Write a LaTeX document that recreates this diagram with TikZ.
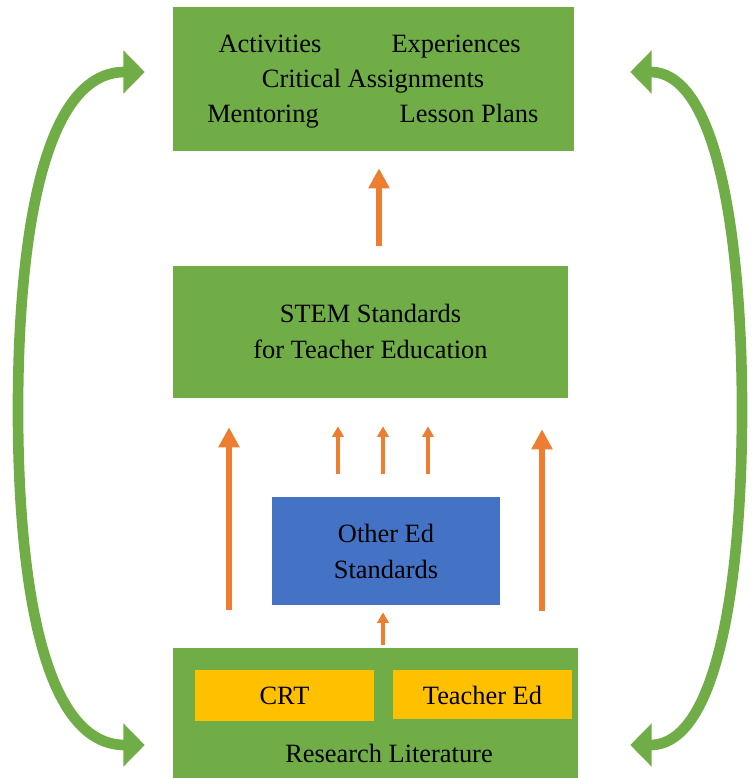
\documentclass[tikz,border=0pt]{standalone}
\usepackage{fontspec}
\setmainfont{Liberation Serif}
\newfontfamily\tnr{Liberation Serif}
\usetikzlibrary{arrows.meta,calc}
\definecolor{grn}{HTML}{70AD47}
\definecolor{blu}{HTML}{4472C4}
\definecolor{org}{HTML}{ED7D31}
\definecolor{yel}{HTML}{FFC000}
\begin{document}
\begin{tikzpicture}[x=0.75pt,y=-0.75pt,
  box/.style={fill=#1,draw=none,inner sep=0pt},
  txt/.style={anchor=base,inner sep=0pt,font=\tnr\fontsize{19.8pt}{27pt}\selectfont},
  bigarrow/.style={draw=org,line width=5pt,-{Triangle[width=15pt,length=15pt]}},
  smallarrow/.style={draw=org,line width=3pt,-{Triangle[width=8.5pt,length=8pt]}},
  loop/.style={draw=grn,line width=8pt,{Triangle[width=31.5pt,length=16pt]}-{Triangle[width=31.5pt,length=16pt]}}
]
\useasboundingbox (0,0) rectangle (753,778);
% boxes
\node[box=grn,minimum width=300.75pt,minimum height=108pt] (top) at (373.5,79) {};
\node[box=grn,minimum width=296.25pt,minimum height=99pt] (mid) at (370.5,332) {};
\node[box=blu,minimum width=171pt,minimum height=81pt] (oth) at (386,551) {};
\node[box=grn,minimum width=303.75pt,minimum height=97.5pt] (bot) at (375.5,713) {};
\node[box=yel,minimum width=134.25pt,minimum height=38.25pt] (crt) at (284.5,695.5) {};
\node[box=yel,minimum width=134.25pt,minimum height=36.75pt] (ted) at (482.5,694.5) {};
% texts
\node[txt] (t1) at (270,52) {Activities};
\node[txt] (t2) at (456,52) {Experiences};
\node[txt] (t3) at (373,87) {Critical Assignments};
\node[txt] (t4) at (263,122) {Mentoring};
\node[txt] (t5) at (469,122) {Lesson Plans};
\node[txt] (m1) at (370.5,322) {STEM Standards};
\node[txt] (m2) at (370.5,358) {for Teacher Education};
\node[txt] (o1) at (386,542) {Other Ed};
\node[txt] (o2) at (386,578) {Standards};
\node[txt] (c1) at (284.5,704) {CRT};
\node[txt] (c2) at (482.5,704) {Teacher Ed};
\node[txt] (r1) at (389,762) {Research Literature};
% orange arrows
\draw[bigarrow,shorten <=15pt,shorten >=12.75pt] ([xshift=6.375pt]mid.north) -- ([xshift=4.125pt]top.south);
\draw[bigarrow,shorten <=28.5pt,shorten >=21.75pt] ([xshift=-109.875pt]bot.north) -- ([xshift=-106.125pt]mid.south);
\draw[bigarrow,shorten <=27.75pt,shorten >=23.25pt] ([xshift=124.875pt]bot.north) -- ([xshift=128.625pt]mid.south);
\draw[smallarrow,shorten <=17.25pt,shorten >=21pt] ([xshift=-36pt]oth.north) -- ([xshift=-24.375pt]mid.south);
\draw[smallarrow,shorten <=17.25pt,shorten >=21pt] ([xshift=-2.25pt]oth.north) -- ([xshift=9.375pt]mid.south);
\draw[smallarrow,shorten <=17.25pt,shorten >=21pt] ([xshift=31.5pt]oth.north) -- ([xshift=43.125pt]mid.south);
\draw[smallarrow,shorten <=2.25pt,shorten >=5.25pt] ([xshift=5.625pt]bot.north) -- ([xshift=-2.25pt]oth.south);
% green loops
\draw[loop] ([xshift=-21pt,yshift=5.25pt]top.west) .. controls (40,72) and (18,250) .. (18,410)
   .. controls (18,570) and (40,745) .. ([xshift=-21pt,yshift=-24pt]bot.west);
\draw[loop] ([xshift=42pt,yshift=5.25pt]top.east) .. controls (720,72) and (742,250) .. (742,410)
   .. controls (742,570) and (720,745) .. ([xshift=39pt,yshift=-24pt]bot.east);
\end{tikzpicture}
\end{document}
